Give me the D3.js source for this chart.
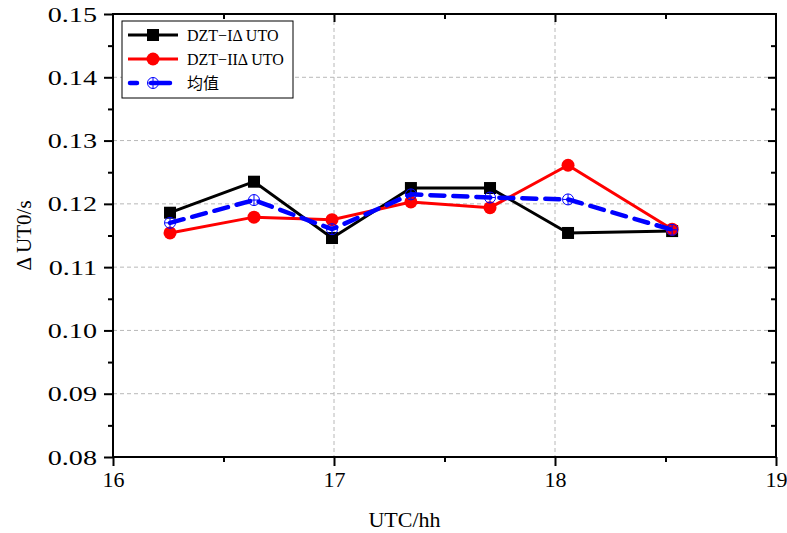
<!DOCTYPE html>
<html><head><meta charset="utf-8">
<script src="https://cdn.jsdelivr.net/npm/d3@7"></script>
<style>body{margin:0;background:#fff}svg{display:block}
.serif{font-family:"Liberation Serif","Tinos","Times New Roman","DejaVu Serif",serif;}
.cjk{font-family:"Noto Sans CJK SC","Noto Sans CJK JP",sans-serif;}</style>
</head><body><svg id="c" width="787" height="533"></svg>
<script>
const hours = [16.258, 16.638, 16.991, 17.348, 17.706, 18.059, 18.53];
const dzt1 = [0.1186, 0.1235, 0.1146, 0.1225, 0.1225, 0.1154, 0.1157];
const dzt2 = [0.1154, 0.1179, 0.1175, 0.1203, 0.1194, 0.1261, 0.1160];
const meanVals = [0.1170, 0.1206, 0.1160, 0.1215, 0.1210, 0.1207, 0.1159];
const seriesNames = ["DZT\u2212I\u0394 UTO", "DZT\u2212II\u0394 UTO", "均值"];
const xTicks = [16, 17, 18, 19];
const yTicks = [0.08, 0.09, 0.10, 0.11, 0.12, 0.13, 0.14, 0.15];
const xLabel = "UTC/hh";
const yLabel = "\u0394 UT0/s";

const svg = d3.select("#c");
const L = 113, R = 776, T = 14, B = 457;
const x = d3.scaleLinear().domain([16, 19]).range([L, R]);
const y = d3.scaleLinear().domain([0.08, 0.15]).range([B, T]);

// grid
const g = svg.append("g");
g.selectAll(".gx").data(xTicks.slice(1, -1)).enter().append("line")
  .attr("x1", d => x(d)).attr("x2", d => x(d)).attr("y1", T).attr("y2", B)
  .attr("stroke", "#b8b8b8").attr("stroke-width", 1).attr("stroke-dasharray", "4,3");
g.selectAll(".gy").data(yTicks.slice(1, -1)).enter().append("line")
  .attr("y1", d => y(d)).attr("y2", d => y(d)).attr("x1", L).attr("x2", R)
  .attr("stroke", "#b8b8b8").attr("stroke-width", 1).attr("stroke-dasharray", "4,3");

// axes
const xMinor = d3.range(16.5, 19, 1);
const yMinor = d3.range(0.085, 0.15, 0.01);
function styleAxis(sel) {
  sel.attr("font-family", null).attr("font-size", null);
  sel.select(".domain").remove();
  sel.selectAll("line").attr("stroke", "#000").attr("stroke-width", 2);
  sel.selectAll("text").attr("class", "serif").style("font-size", "22px").attr("fill", "#000");
}
svg.append("g").attr("transform", `translate(0,${B})`)
  .call(d3.axisBottom(x).tickValues(xTicks).tickFormat(d3.format("d")).tickSize(9).tickPadding(5)).call(styleAxis);
svg.append("g").attr("transform", `translate(0,${B})`)
  .call(d3.axisBottom(x).tickValues(xMinor).tickFormat("").tickSize(5)).call(styleAxis);
const ay = svg.append("g").attr("transform", `translate(${L},0)`)
  .call(d3.axisLeft(y).tickValues(yTicks).tickFormat(d3.format(".2f")).tickSize(9).tickPadding(7)).call(styleAxis);
ay.selectAll(".tick text").attr("x", 0).attr("transform", "translate(-16,0) scale(1.28,1)");
svg.append("g").attr("transform", `translate(${L},0)`)
  .call(d3.axisLeft(y).tickValues(yMinor).tickFormat("").tickSize(5)).call(styleAxis);
// top & right inward ticks
svg.append("g").attr("transform", `translate(0,${T})`)
  .call(d3.axisTop(x).tickValues(xTicks.slice(1,-1)).tickFormat("").tickSize(-8)).call(styleAxis);
svg.append("g").attr("transform", `translate(0,${T})`)
  .call(d3.axisTop(x).tickValues(xMinor).tickFormat("").tickSize(-5)).call(styleAxis);
svg.append("g").attr("transform", `translate(${R},0)`)
  .call(d3.axisRight(y).tickValues(yTicks.slice(1,-1)).tickFormat("").tickSize(-8)).call(styleAxis);
svg.append("g").attr("transform", `translate(${R},0)`)
  .call(d3.axisRight(y).tickValues(yMinor).tickFormat("").tickSize(-5)).call(styleAxis);
svg.append("rect").attr("x", L).attr("y", T).attr("width", R - L).attr("height", B - T)
  .attr("fill", "none").attr("stroke", "#000").attr("stroke-width", 2);

// labels
svg.append("text").attr("class", "serif").attr("x", (L + R) / 2 - 40).attr("y", 527).attr("text-anchor", "middle")
  .style("font-size", "22px").text(xLabel);
svg.append("text").attr("class", "serif").attr("transform", `translate(31,${(T + B) / 2}) rotate(-90)`).attr("text-anchor", "middle")
  .style("font-size", "21px").text(yLabel);

// lines
const line = d3.line().x(d => x(d[0])).y(d => y(d[1]));
const d1 = hours.map((h, i) => [h, dzt1[i]]);
const d2 = hours.map((h, i) => [h, dzt2[i]]);
const dm = hours.map((h, i) => [h, meanVals[i]]);
const plot = svg.append("g");
plot.append("path").datum(d1).attr("d", line).attr("fill", "none").attr("stroke", "#000").attr("stroke-width", 3);
plot.selectAll(".sq").data(d1).enter().append("rect")
  .attr("x", d => x(d[0]) - 6).attr("y", d => y(d[1]) - 6).attr("width", 12).attr("height", 12).attr("fill", "#000");
plot.append("path").datum(d2).attr("d", line).attr("fill", "none").attr("stroke", "#f00").attr("stroke-width", 3);
plot.selectAll(".ci").data(d2).enter().append("circle")
  .attr("cx", d => x(d[0])).attr("cy", d => y(d[1])).attr("r", 6.5).attr("fill", "#f00");
plot.append("path").datum(dm).attr("d", line).attr("fill", "none").attr("stroke", "#00f").attr("stroke-width", 4.5)
  .attr("stroke-dasharray", "14,9").attr("stroke-linecap", "round");
function crossCircle(sel, cx, cy) {
  sel.append("circle").attr("cx", cx).attr("cy", cy).attr("r", 5.5).attr("fill", "none").attr("stroke", "#00f").attr("stroke-width", 1);
  sel.append("line").attr("x1", cx - 5.5).attr("x2", cx + 5.5).attr("y1", cy).attr("y2", cy).attr("stroke", "#00f").attr("stroke-width", 1);
  sel.append("line").attr("x1", cx).attr("x2", cx).attr("y1", cy - 5.5).attr("y2", cy + 5.5).attr("stroke", "#00f").attr("stroke-width", 1);
}
dm.forEach(d => crossCircle(plot, x(d[0]), y(d[1])));

// legend
const lg = svg.append("g");
lg.append("rect").attr("x", 122).attr("y", 21).attr("width", 171).attr("height", 77)
  .attr("fill", "#fff").attr("stroke", "#000").attr("stroke-width", 1);
const rows = [35, 59, 83];
lg.append("line").attr("x1", 128).attr("x2", 178).attr("y1", rows[0]).attr("y2", rows[0]).attr("stroke", "#000").attr("stroke-width", 3);
lg.append("rect").attr("x", 147).attr("y", rows[0] - 6).attr("width", 12).attr("height", 12).attr("fill", "#000");
lg.append("line").attr("x1", 128).attr("x2", 178).attr("y1", rows[1]).attr("y2", rows[1]).attr("stroke", "#f00").attr("stroke-width", 3);
lg.append("circle").attr("cx", 153).attr("cy", rows[1]).attr("r", 6.5).attr("fill", "#f00");
lg.append("line").attr("x1", 130).attr("x2", 176).attr("y1", rows[2]).attr("y2", rows[2]).attr("stroke", "#00f").attr("stroke-width", 4.5)
  .attr("stroke-dasharray", "7,14,12,0").attr("stroke-linecap", "round");
crossCircle(lg, 153, rows[2]);
seriesNames.forEach((n, i) => {
  lg.append("text").attr("x", 187).attr("y", rows[i] + 6)
    .attr("class", i === 2 ? "cjk" : "serif").style("font-size", "16px").text(n);
});
</script></body></html>
